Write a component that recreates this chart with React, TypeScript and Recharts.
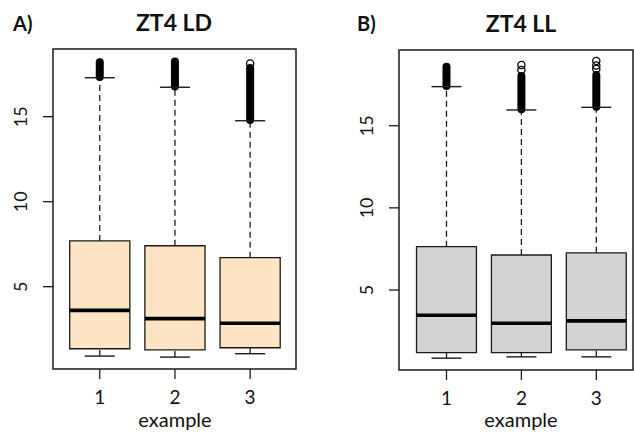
import React from "react";
import {
  ComposedChart,
  XAxis,
  YAxis,
  ReferenceArea,
  ReferenceLine,
  Scatter,
} from "recharts";

const groups = [1, 2, 3];
const yTicks = [5, 10, 15];

// ZT4 LD
const ldLower = [0.92, 0.86, 1.06];
const ldQ1 = [1.35, 1.28, 1.41];
const ldMedian = [3.61, 3.12, 2.85];
const ldQ3 = [7.69, 7.41, 6.71];
const ldUpper = [17.29, 16.73, 14.76];
const ldOutFrom = [17.33, 16.78, 14.8];
const ldOutTo = [18.2, 18.24, 17.86];
const ldOutPoints = [[], [], [18.13]];

// ZT4 LL
const llLower = [0.85, 0.93, 0.93];
const llQ1 = [1.19, 1.19, 1.35];
const llMedian = [3.46, 2.98, 3.12];
const llQ3 = [7.64, 7.13, 7.26];
const llUpper = [17.38, 15.96, 16.12];
const llOutFrom = [17.42, 16.0, 16.16];
const llOutTo = [18.59, 18.03, 18.09];
const llOutPoints = [[], [18.39, 18.7], [18.45, 18.67, 18.94]];

const INK = "#1b1b1b";
const FONT = "Lato, 'Open Sans', sans-serif";

const XTick = (props: any) => {
  const { x, y, payload } = props;
  return (
    <text x={x} y={y + 25} textAnchor="middle" fontSize={19} fontFamily={FONT} fill="#111">
      {payload.value}
    </text>
  );
};

const YTick = (props: any) => {
  const { x, y, payload } = props;
  const bx = x - 16;
  return (
    <text
      x={bx}
      y={y}
      transform={`rotate(-90, ${bx}, ${y})`}
      textAnchor="middle"
      fontSize={18}
      fontFamily={FONT}
      fill="#111"
    >
      {payload.value}
    </text>
  );
};

const OpenCircle = (props: any) => (
  <circle cx={props.cx} cy={props.cy} r={3.6} fill="none" stroke="#000" strokeWidth={1.3} />
);

type PanelProps = {
  left: number;
  width: number;
  yAxisWidth: number;
  marginTop: number;
  marginRight: number;
  xAxisHeight: number;
  xDomain: [number, number];
  yDomain: [number, number];
  lower: number[];
  q1: number[];
  median: number[];
  q3: number[];
  upper: number[];
  outFrom: number[];
  outTo: number[];
  outPoints: number[][];
  fill: string;
};

function BoxPanel(p: PanelProps) {
  const [x0, x1] = p.xDomain;
  const [y0, y1] = p.yDomain;
  const points = groups.flatMap((g, i) => p.outPoints[i].map((v) => ({ x: g, y: v })));

  return (
    <div style={{ position: "absolute", left: p.left, top: 0 }}>
      <ComposedChart
        width={p.width}
        height={434}
        margin={{ top: p.marginTop, right: p.marginRight, bottom: 0, left: 0 }}
      >
        <XAxis
          type="number"
          dataKey="x"
          domain={p.xDomain}
          allowDataOverflow
          ticks={groups}
          height={p.xAxisHeight}
          axisLine={false}
          tickSize={10}
          tickMargin={0}
          tickLine={{ stroke: INK, strokeWidth: 1.3 }}
          tick={<XTick />}
        />
        <YAxis
          type="number"
          dataKey="y"
          domain={p.yDomain}
          allowDataOverflow
          ticks={yTicks}
          width={p.yAxisWidth}
          axisLine={false}
          tickSize={10}
          tickMargin={0}
          tickLine={{ stroke: INK, strokeWidth: 1.3 }}
          tick={<YTick />}
        />

        {/* frame around the plot region */}
        <ReferenceArea x1={x0} x2={x1} y1={y0} y2={y1} fill="none" stroke={INK} strokeWidth={1.5} />

        {groups.map((g, i) => (
          <ReferenceArea
            key={`box-${g}`}
            x1={g - 0.4}
            x2={g + 0.4}
            y1={p.q1[i]}
            y2={p.q3[i]}
            fill={p.fill}
            fillOpacity={1}
            stroke={INK}
            strokeWidth={1.3}
          />
        ))}

        {/* dashed whiskers */}
        {groups.map((g, i) => (
          <ReferenceLine
            key={`wlo-${g}`}
            segment={[{ x: g, y: p.lower[i] }, { x: g, y: p.q1[i] }]}
            stroke={INK}
            strokeWidth={1.3}
            strokeDasharray="6 4"
          />
        ))}
        {groups.map((g, i) => (
          <ReferenceLine
            key={`whi-${g}`}
            segment={[{ x: g, y: p.q3[i] }, { x: g, y: p.upper[i] }]}
            stroke={INK}
            strokeWidth={1.3}
            strokeDasharray="6 4"
          />
        ))}

        {/* outlier stacks, dense enough to merge into a solid bar */}
        {groups.map((g, i) => (
          <ReferenceLine
            key={`out-${g}`}
            segment={[{ x: g, y: p.outFrom[i] }, { x: g, y: p.outTo[i] }]}
            stroke="#000"
            strokeWidth={8}
            strokeLinecap="round"
          />
        ))}

        {/* whisker caps */}
        {groups.map((g, i) => (
          <ReferenceLine
            key={`clo-${g}`}
            segment={[{ x: g - 0.2, y: p.lower[i] }, { x: g + 0.2, y: p.lower[i] }]}
            stroke={INK}
            strokeWidth={1.4}
          />
        ))}
        {groups.map((g, i) => (
          <ReferenceLine
            key={`chi-${g}`}
            segment={[{ x: g - 0.2, y: p.upper[i] }, { x: g + 0.2, y: p.upper[i] }]}
            stroke={INK}
            strokeWidth={1.4}
          />
        ))}

        {/* medians */}
        {groups.map((g, i) => (
          <ReferenceLine
            key={`med-${g}`}
            segment={[{ x: g - 0.4, y: p.median[i] }, { x: g + 0.4, y: p.median[i] }]}
            stroke="#000"
            strokeWidth={3.6}
          />
        ))}

        <Scatter data={points} shape={<OpenCircle />} isAnimationActive={false} />
      </ComposedChart>
    </div>
  );
}

export default function App() {
  const titleStyle = { fontFamily: FONT, fontWeight: 700, fill: "#111" } as const;
  return (
    <div style={{ position: "absolute", left: 0, top: 0, width: 634, height: 434, background: "#fff" }}>
      <BoxPanel
        left={0}
        width={320}
        yAxisWidth={53}
        marginTop={49}
        marginRight={24}
        xAxisHeight={65}
        xDomain={[0.378, 3.61]}
        yDomain={[0.16, 18.98]}
        lower={ldLower}
        q1={ldQ1}
        median={ldMedian}
        q3={ldQ3}
        upper={ldUpper}
        outFrom={ldOutFrom}
        outTo={ldOutTo}
        outPoints={ldOutPoints}
        fill="#fde4c5"
      />
      <BoxPanel
        left={320}
        width={314}
        yAxisWidth={79}
        marginTop={50}
        marginRight={1}
        xAxisHeight={64}
        xDomain={[0.366, 3.49]}
        yDomain={[0.13, 19.61]}
        lower={llLower}
        q1={llQ1}
        median={llMedian}
        q3={llQ3}
        upper={llUpper}
        outFrom={llOutFrom}
        outTo={llOutTo}
        outPoints={llOutPoints}
        fill="#d3d3d3"
      />
      <svg
        width={634}
        height={434}
        style={{ position: "absolute", left: 0, top: 0, pointerEvents: "none" }}
      >
        <text x={13} y={30.5} fontSize={20} {...titleStyle}>A)</text>
        <text x={174} y={31} fontSize={23} textAnchor="middle" {...titleStyle}>ZT4 LD</text>
        <text x={357} y={30.5} fontSize={20} {...titleStyle}>B)</text>
        <text x={521} y={31.5} fontSize={23} textAnchor="middle" {...titleStyle}>ZT4 LL</text>
        <text x={175} y={426.5} fontSize={20} textAnchor="middle" fontFamily={FONT} fill="#111">example</text>
        <text x={521} y={427} fontSize={20} textAnchor="middle" fontFamily={FONT} fill="#111">example</text>
      </svg>
    </div>
  );
}
